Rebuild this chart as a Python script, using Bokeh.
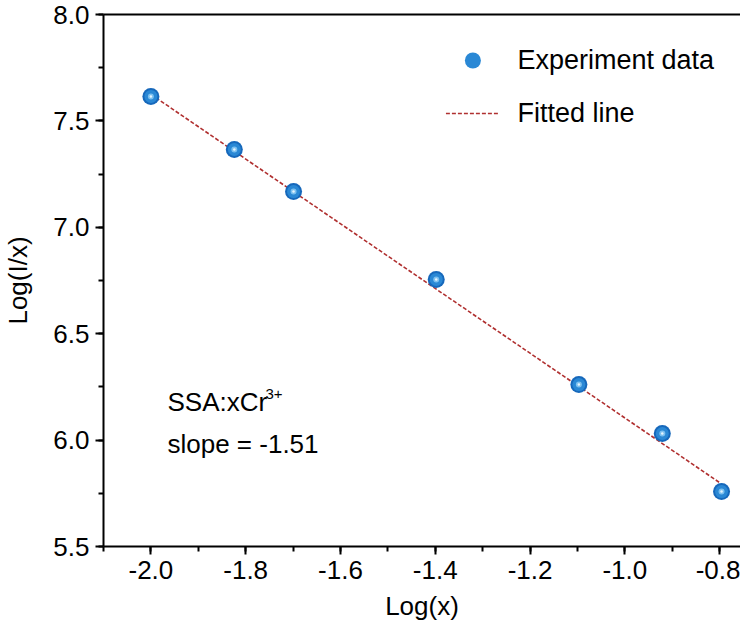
from bokeh.plotting import figure
from bokeh.models import (Range1d, SingleIntervalTicker, Legend, LegendItem, LinearAxis,
                          ColumnDataSource, NumeralTickFormatter)
from bokeh.core.properties import value
from bokeh.embed import file_html
from bokeh.resources import INLINE

# data
log_x = [-2.0, -1.824, -1.699, -1.398, -1.097, -0.921, -0.796]
log_ix = [7.615, 7.366, 7.168, 6.755, 6.261, 6.031, 5.758]
fit_x = [-2.0, -0.8]
fit_y = [7.625, 5.80]
x_label = "Log(x)"
y_label = "Log(I/x)"
legend_labels = ["Experiment data", "Fitted line"]
note_main = "SSA:xCr"
note_sup = "3+"
note_slope = "slope = -1.51"
note_pos_x = -1.965
note_pos_y = [6.181, 5.984]

FONT = "Liberation Sans"

p = figure(width=740, height=627, output_backend="svg", toolbar_location=None,
           x_range=Range1d(-2.1, -0.756), y_range=Range1d(5.5, 8.0),
           min_border_left=103, min_border_top=14, min_border_bottom=81, min_border_right=0)
p.outline_line_color = None
p.grid.visible = False
p.background_fill_color = "white"
p.border_fill_color = "white"

fit = p.line(fit_x, fit_y, line_color="#b03030", line_width=1.6, line_dash="4 2")

src = ColumnDataSource(dict(x=log_x, y=log_ix))
s1 = p.scatter("x", "y", source=src, size=17, fill_color="#1668bb", line_color=None)
s2 = p.scatter("x", "y", source=src, size=13, fill_color="#2a88d5", line_color=None)
s3 = p.scatter("x", "y", source=src, size=6, fill_color="#7cc0ef", line_color=None)
s4 = p.scatter("x", "y", source=src, size=2.5, fill_color="#e6f4fd", line_color=None)

xax = p.below[0]
yax = p.left[0]

for ax in (xax, yax):
    ax.axis_line_width = 2
    ax.major_tick_line_width = 2
    ax.minor_tick_line_width = 2
    ax.major_tick_out = 8
    ax.major_tick_in = 0
    ax.minor_tick_out = 5
    ax.minor_tick_in = 0
    ax.major_label_text_font = FONT
    ax.major_label_text_font_size = "26px"
    ax.major_label_text_color = "black"
    ax.axis_label_text_font = FONT
    ax.axis_label_text_font_size = "26px"
    ax.axis_label_text_font_style = "normal"
    ax.axis_label_text_color = "black"
    ax.formatter = NumeralTickFormatter(format="0.0")

xax.ticker = SingleIntervalTicker(interval=0.2, num_minor_ticks=2)
yax.ticker = SingleIntervalTicker(interval=0.5, num_minor_ticks=2)
xax.axis_label = x_label
yax.axis_label = y_label
xax.major_label_standoff = 6
yax.major_label_standoff = 6
xax.axis_label_standoff = 9
yax.axis_label_standoff = 17

# top border as a bare axis
top = LinearAxis(major_tick_line_color=None, minor_tick_line_color=None,
                 major_label_text_font_size="0px", major_label_text_alpha=0,
                 axis_line_width=2, major_label_standoff=0)
p.add_layout(top, "above")

# annotations
p.text(x=[note_pos_x], y=[note_pos_y[0]], text=[note_main], text_font=value(FONT),
       text_font_size="26px", text_baseline="alphabetic", text_color="black")
p.text(x=[note_pos_x], y=[note_pos_y[0]], text=[note_sup], text_font=value(FONT),
       text_font_size="15px", text_baseline="alphabetic", text_color="black",
       x_offset=98, y_offset=-8)
p.text(x=[note_pos_x], y=[note_pos_y[1]], text=[note_slope], text_font=value(FONT),
       text_font_size="26px", text_baseline="alphabetic", text_color="black")

legend = Legend(items=[LegendItem(label=legend_labels[0], renderers=[s2]),
                       LegendItem(label=legend_labels[1], renderers=[fit])],
                location="top_right")
legend.border_line_color = None
legend.background_fill_alpha = 0
legend.label_text_font = FONT
legend.label_text_font_size = "27px"
legend.label_text_color = "black"
legend.glyph_width = 54
legend.glyph_height = 40
legend.label_height = 40
legend.spacing = 13
legend.label_standoff = 18
legend.padding = 0
legend.margin = 26
p.add_layout(legend)

open("out.html", "w").write(file_html(p, INLINE))
